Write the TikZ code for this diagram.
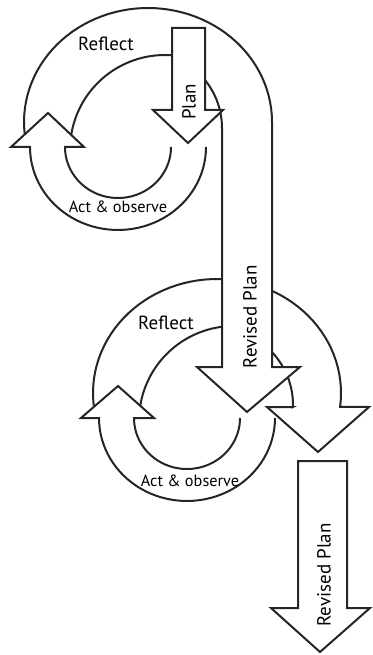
\documentclass[tikz,border=0pt]{standalone}
\usepackage{fontspec}
\setmainfont{PT Sans}
\definecolor{outline}{RGB}{40,36,34}
\tikzset{
  band/.style={draw=outline, line width=2pt, fill=white, line join=miter},
  lbl/.style={font=\fontsize{19}{21}\selectfont, inner sep=0pt},
  lblsmall/.style={font=\fontsize{16.3}{18}\selectfont, inner sep=0pt},
}
\begin{document}
\begin{tikzpicture}[x=1pt, y=-1pt]
        \useasboundingbox (0,0) rectangle (372,655);

        % lower cycle: reflect band running round into the bent arrow
        \filldraw[band] plot[domain=188.6:-7, samples=60] ({217+124*cos(\x)},{393-114*sin(\x)})
            -- (369,407) -- (318,452) -- (267,407) -- (293,407)
            -- plot[domain=-1.5:75, samples=30] ({216+77*cos(\x)},{405-77*sin(\x)})
            -- plot[domain=80:173.4, samples=40] ({234+95*cos(\x)},{421-95*sin(\x)}) -- cycle;
        % lower cycle: act & observe ring
        \filldraw[band] plot[domain=0:-180, samples=50] ({187+53*cos(\x)},{418-51*sin(\x)})
            -- (154,418) -- (118,386) -- (81,418)
            -- plot[domain=-180:0, samples=50] ({187+88*cos(\x)},{418-83*sin(\x)});

        % upper cycle: reflect band running into the first revised plan
        \coordinate (rp1) at (247,412);
        \filldraw[band] plot[domain=188.6:0, samples=60] ({148+124*cos(\x)},{122-114*sin(\x)})
            -- (272,367) -- (300,367) -- (rp1) -- (197,367) -- (222,367) -- (222,128)
            -- plot[domain=0:60, samples=20] ({146+76*cos(\x)},{128-76*sin(\x)})
            -- plot[domain=80:173.4, samples=40] ({165+95*cos(\x)},{150-95*sin(\x)}) -- cycle;
        % upper cycle: act & observe ring
        \filldraw[band] plot[domain=0:-180, samples=50] ({118+53*cos(\x)},{147-51*sin(\x)})
            -- (84,147) -- (48,113) -- (11,147)
            -- plot[domain=-180:0, samples=50] ({118+88*cos(\x)},{147-83*sin(\x)});

        % plan arrow
        \coordinate (pl) at (188,143);
        \filldraw[band] (172,28) -- (205,28) -- (205,110) -- (223,110) -- (pl) -- (153,110) -- (172,110) -- cycle;

        % second revised plan
        \coordinate (rp2) at (320,652);
        \filldraw[band] (298,461) -- (347,461) -- (347,608) -- (370,608) -- (rp2) -- (271,608) -- (298,608) -- cycle;

        \node[lbl] (reflect1) at (106,44) {Reflect};
        \node[lblsmall] (act1) at (118,207) {Act \& observe};
        \node[lbl, rotate=90] (plan) at (189,102) {Plan};
        \node[lbl, rotate=90] (revplan1) at (250,317) {Revised Plan};
        \node[lbl] (reflect2) at (166,323) {Reflect};
        \node[lblsmall] (act2) at (190,481) {Act \& observe};
        \node[lbl, rotate=90] (revplan2) at (324,575) {Revised Plan};
\end{tikzpicture}
\end{document}
